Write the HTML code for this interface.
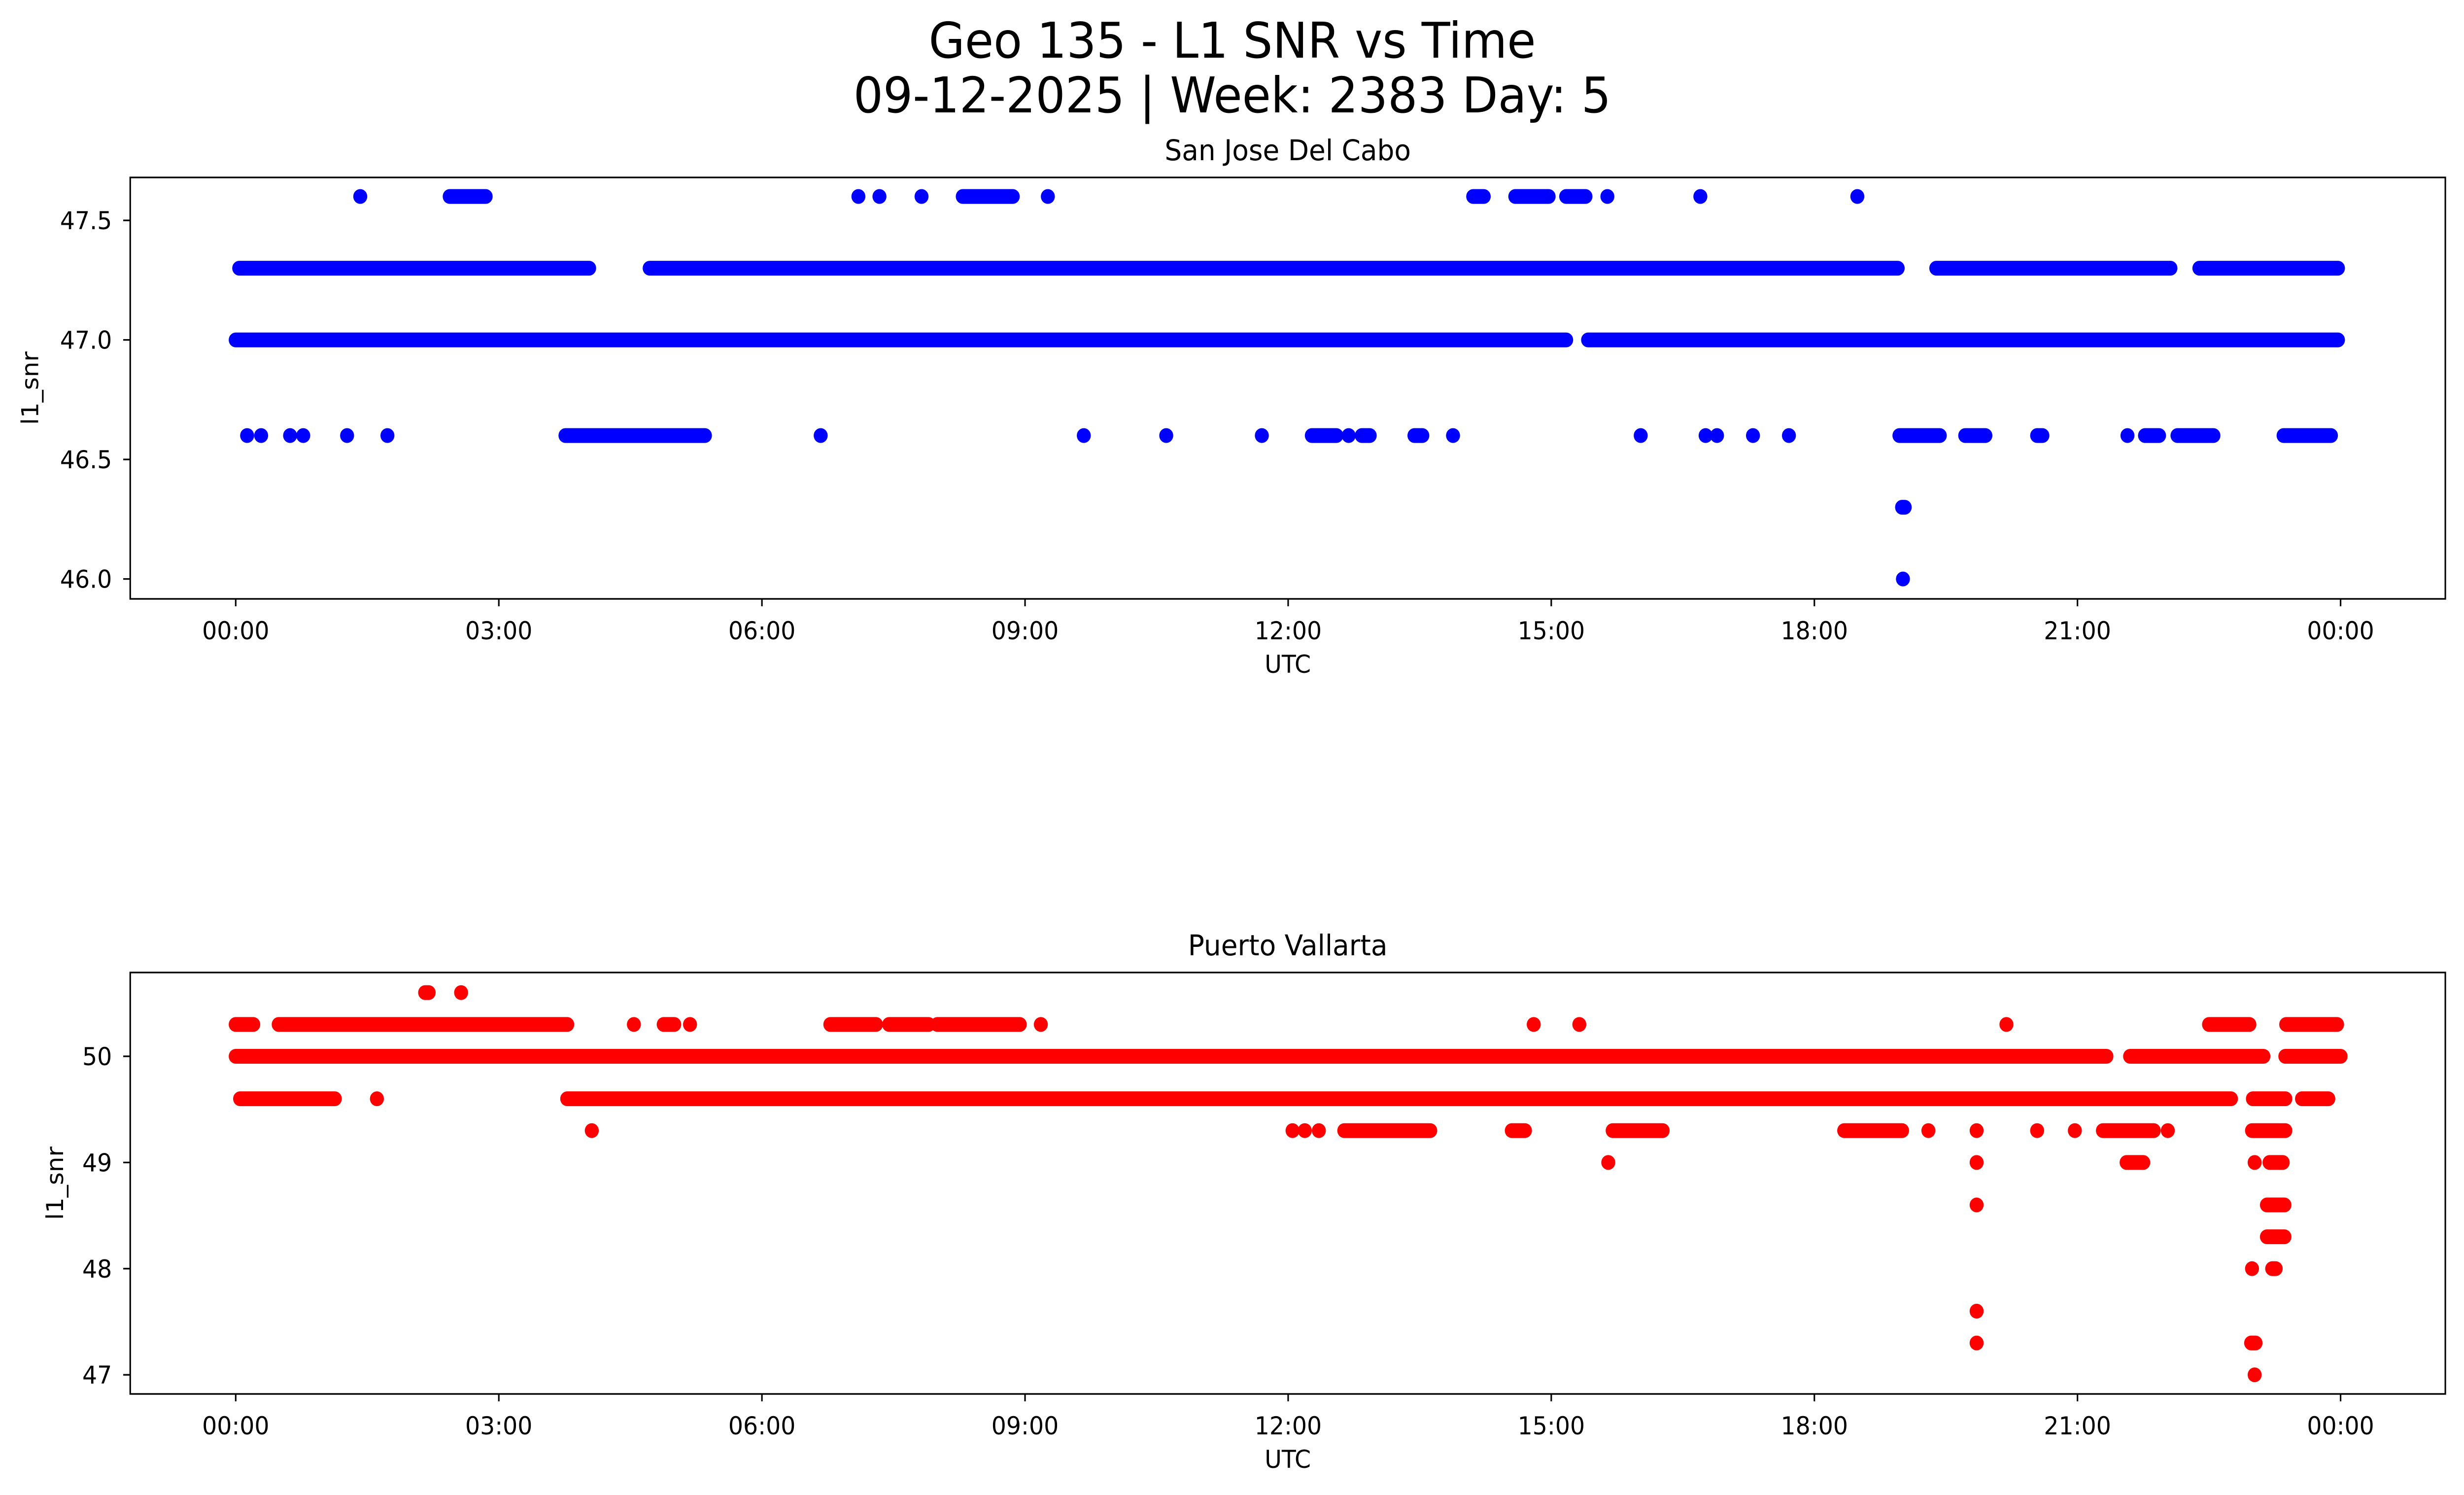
<!DOCTYPE html>
<html><head><meta charset="utf-8">
<style>html,body{margin:0;padding:0;background:#fff;overflow:hidden;width:100%;height:100%}svg{display:block;width:100vw;height:100vh}text{font-family:"DejaVu Sans","Liberation Sans",sans-serif;fill:#000}</style>
</head><body>
<svg id="fig" viewBox="0 0 5279 3033" preserveAspectRatio="none" xmlns="http://www.w3.org/2000/svg">
<rect width="5279" height="3033" fill="#fff"/>
<text x="2640" y="117" font-size="100" text-anchor="middle">Geo 135 - L1 SNR vs Time</text>
<text x="2640" y="228" font-size="100" text-anchor="middle">09-12-2025 | Week: 2383 Day: 5</text>
<g id="p1"></g>
<g id="p2"></g>
</svg>
<script>
// x ticks (hours)
const xTickHours=[0,3,6,9,12,15,18,21,24];
const xTickLabels=["00:00","03:00","06:00","09:00","12:00","15:00","18:00","21:00","00:00"];

// San Jose Del Cabo: levels and [start,end] hour runs per level
const sjLevels=[47.6,47.3,47.0,46.6,46.3,46.0];
const sjTicks=[46.0,46.5,47.0,47.5];
const sjTickLabels=["46.0","46.5","47.0","47.5"];
const sj476=[[1.42,1.42],[2.44,2.85],[7.1,7.1],[7.34,7.34],[7.82,7.82],[8.29,8.86],[9.26,9.26],[14.11,14.23],[14.59,14.97],[15.17,15.39],[15.64,15.64],[16.7,16.7],[18.49,18.49]];
const sj473=[[0.04,4.03],[4.72,18.95],[19.39,22.06],[22.39,23.97]];
const sj470=[[0.0,15.17],[15.42,23.97]];
const sj466=[[0.13,0.13],[0.29,0.29],[0.62,0.62],[0.77,0.77],[1.27,1.27],[1.73,1.73],[3.76,5.35],[6.67,6.67],[9.67,9.67],[10.61,10.61],[11.7,11.7],[12.27,12.55],[12.69,12.69],[12.84,12.93],[13.44,13.53],[13.88,13.88],[16.02,16.02],[16.76,16.76],[16.89,16.89],[17.3,17.3],[17.71,17.71],[18.97,19.43],[19.72,19.95],[20.54,20.6],[21.57,21.57],[21.77,21.93],[22.14,22.55],[23.35,23.89]];
const sj463=[[19.0,19.03]];
const sj460=[[19.01,19.01]];

// Puerto Vallarta
const pvLevels=[50.6,50.3,50.0,49.6,49.3,49.0,48.6,48.3,48.0,47.6,47.3,47.0];
const pvTicks=[47,48,49,50];
const pvTickLabels=["47","48","49","50"];
const pv506=[[2.16,2.2],[2.57,2.57]];
const pv503=[[0.0,0.2],[0.49,3.78],[4.54,4.54],[4.88,5.0],[5.18,5.18],[6.78,7.3],[7.45,7.9],[8.0,8.94],[9.18,9.18],[14.8,14.8],[15.32,15.32],[20.19,20.19],[22.5,22.96],[23.38,23.96]];
const pv500=[[0.0,21.33],[21.6,23.12],[23.37,24.0]];
const pv496=[[0.05,1.13],[1.61,1.61],[3.78,22.75],[23.0,23.37],[23.56,23.86]];
const pv493=[[4.06,4.06],[12.05,12.05],[12.19,12.19],[12.35,12.35],[12.64,13.62],[14.55,14.7],[15.7,16.27],[18.34,19.0],[19.3,19.3],[19.85,19.85],[20.54,20.54],[20.97,20.97],[21.29,21.87],[22.03,22.03],[22.99,23.37]];
const pv490=[[15.65,15.65],[19.85,19.85],[21.56,21.75],[23.02,23.02],[23.19,23.34]];
const pv486=[[19.85,19.85],[23.16,23.36]];
const pv483=[[23.16,23.36]];
const pv480=[[22.99,22.99],[23.22,23.26]];
const pv476=[[19.85,19.85]];
const pv473=[[19.85,19.85],[22.98,23.03]];
const pv470=[[23.02,23.02]];

const NS="http://www.w3.org/2000/svg";
const AX_L=279, AX_R=5239;
function xOf(h){return 505+h*187.9;}
function mk(tag,attrs,parent){const e=document.createElementNS(NS,tag);for(const k in attrs)e.setAttribute(k,attrs[k]);parent.appendChild(e);return e;}

function drawPanel(g,opt){
  const {top,bottom,yOf,ticks,tickLabels,title,levels,runs,color,ylabX,key}=opt;
  const t=mk('text',{x:(AX_L+AX_R)/2,y:top-35,'font-size':58,'text-anchor':'middle'},g);
  t.textContent=title;
  
  
  const pts=mk('g',{},g);
  
  
  levels.forEach((lv,i)=>{
    runs[i].forEach(r=>{
      const y=yOf(lv),x1=xOf(r[0]),x2=xOf(r[1]);
      let m;
      if(x2-x1<1){m=mk('circle',{cx:x1,cy:y,r:15,fill:color},pts);}
      else{m=mk('line',{x1:x1,y1:y,x2:x2,y2:y,stroke:color,'stroke-width':30,'stroke-linecap':'round'},pts);}
      
      
    });
  });
  const fr=mk('rect',{x:AX_L,y:top,width:AX_R-AX_L,height:bottom-top,fill:'none',stroke:'#000','stroke-width':3.3},g);
  
  
  xTickHours.forEach((h,i)=>{
    const x=xOf(h);
    mk('line',{x1:x,y1:bottom,x2:x,y2:bottom+15,stroke:'#000','stroke-width':3.3},g);
    const l=mk('text',{x:x,y:bottom+82,'font-size':50,'text-anchor':'middle'},g);
    l.textContent=xTickLabels[i];
    
    
  });
  const xl=mk('text',{x:(AX_L+AX_R)/2,y:bottom+150,'font-size':50,'text-anchor':'middle'},g);
  xl.textContent='UTC';
  
  
  ticks.forEach((v,i)=>{
    const y=yOf(v);
    mk('line',{x1:AX_L-15,y1:y,x2:AX_L,y2:y,stroke:'#000','stroke-width':3.3},g);
    const l=mk('text',{x:240,y:y+18,'font-size':50,'text-anchor':'end'},g);
    l.textContent=tickLabels[i];
    
    
  });
  const cy=(top+bottom)/2;
  const yl=mk('text',{x:ylabX,y:cy,'font-size':50,'text-anchor':'middle',transform:`rotate(-90 ${ylabX} ${cy})`},g);
  yl.textContent='l1_snr';
  
  
}

drawPanel(document.getElementById('p1'),{top:360,bottom:1215,yOf:v=>689.6-(v-47)*485,
  ticks:sjTicks,tickLabels:sjTickLabels,title:'San Jose Del Cabo',levels:sjLevels,
  runs:[sj476,sj473,sj470,sj466,sj463,sj460],color:'#0000ff',ylabX:82,key:'san-jose'});
drawPanel(document.getElementById('p2'),{top:1973,bottom:2828,yOf:v=>2143-(v-50)*215.4,
  ticks:pvTicks,tickLabels:pvTickLabels,title:'Puerto Vallarta',levels:pvLevels,
  runs:[pv506,pv503,pv500,pv496,pv493,pv490,pv486,pv483,pv480,pv476,pv473,pv470],color:'#ff0000',ylabX:135,key:'puerto-vallarta'});
</script>
</body></html>
